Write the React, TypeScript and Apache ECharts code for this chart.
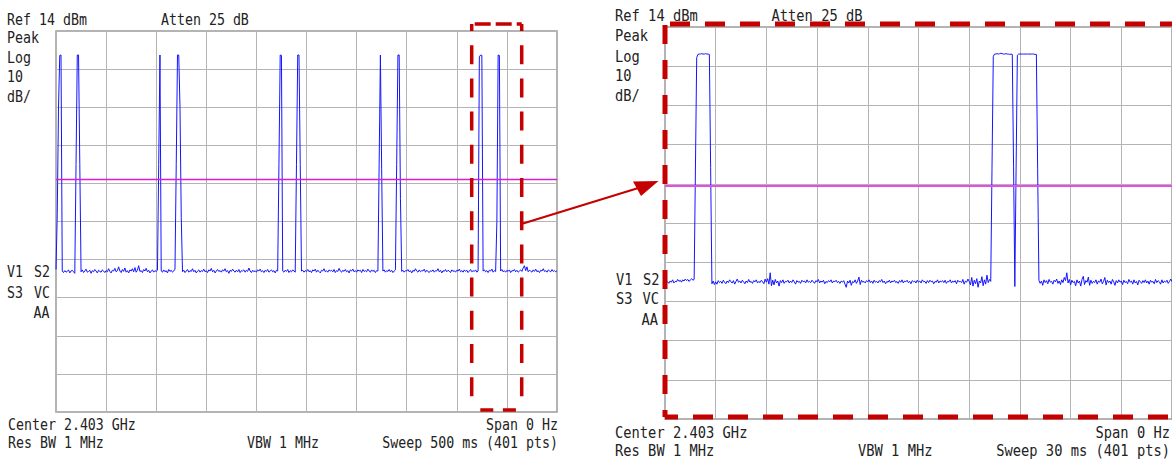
import React, { useEffect, useRef } from "react";
import * as echarts from "echarts";

// ---------------- data ----------------
const REF_LEVEL_DBM = 14;
const DB_PER_DIV = 10;
const POINTS = 401;
const leftSweepMs = 500;
const rightSweepMs = 30;
const leftDisplayLineDbm = -25;
const rightDisplayLineDbm = -26.4;

// left screen: Sweep 500 ms, 401 pts (dBm)
const leftTraceDbm: number[] = [
  -48.6, -34, -6, 7.6, 7.7, -49.0, -49.4, -48.9, -49.3, -49.1, -48.7, -49.5, -49.0, -48.8, -49.2, -49.6, -21, 7.7, 7.7, -21,
  -49.2, -48.7, -49.4, -49.0, -48.5, -49.3, -49.1, -48.8, -49.6, -48.9, -49.2, -48.6, -49.0, -49.5, -48.8, -49.1, -49.3, -48.7, -49.0, -49.4,
  -48.9, -49.2, -48.4, -49.1, -49.5, -48.8, -49.0, -48.3, -49.2, -48.9, -47.9, -49.0, -49.4, -48.6, -49.1, -48.2, -49.3, -48.9, -49.5, -48.7,
  -49.0, -48.4, -49.2, -48.1, -49.3, -48.8, -47.6, -49.1, -48.9, -49.4, -48.6, -49.0, -48.3, -49.2, -48.8, -49.5, -49.0, -48.7, -49.3, -48.9,
  -49.1, -48.8, -21, 7.7, -49.0, -49.3, -48.7, -49.2, -48.9, -49.5, -48.6, -49.1, -48.8, -49.3, -49.0, -48.5, -21, 7.7, 7.7, -6,
  -35, -49.2, -48.8, -49.4, -49.0, -48.6, -49.3, -48.9, -49.1, -48.4, -49.2, -48.8, -49.5, -49.0, -48.7, -49.3, -48.9, -49.1, -48.5, -49.2,
  -48.9, -49.4, -48.7, -49.0, -48.3, -49.2, -48.8, -49.5, -49.0, -48.6, -49.1, -48.9, -49.3, -48.7, -49.0, -48.4, -49.2, -48.9, -49.6, -48.8,
  -49.1, -48.5, -49.0, -49.3, -48.8, -49.2, -48.6, -49.4, -48.9, -49.0, -48.7, -49.3, -48.8, -49.1, -48.2, -49.0, -49.4, -48.8, -49.2, -48.9,
  -49.3, -48.7, -49.0, -48.5, -49.2, -48.9, -49.4, -48.8, -49.1, -48.6, -49.3, -49.0, -48.7, -49.2, -48.9, -49.5, -48.8, -49.0, -21, 7.7,
  7.6, -49.0, -49.3, -48.8, -49.1, -48.6, -49.4, -48.9, -49.2, -48.7, -49.0, -49.3, -21, 7.7, 7.7, -21, -49.0, -48.8, -49.3, -48.9,
  -49.1, -48.6, -49.2, -48.9, -49.4, -48.7, -49.0, -48.5, -49.3, -48.8, -49.1, -49.5, -48.8, -49.0, -48.4, -49.2, -48.9, -49.3, -48.7, -49.0,
  -48.8, -49.2, -48.6, -49.4, -48.9, -49.1, -48.3, -49.0, -49.3, -48.8, -49.1, -48.6, -49.2, -48.9, -49.5, -48.7, -49.0, -48.5, -49.2, -48.9,
  -49.3, -48.7, -49.0, -48.8, -49.4, -48.6, -49.1, -48.9, -49.2, -48.5, -49.0, -49.3, -48.7, -49.1, -48.8, -49.4, -48.9, -49.0, -21, 7.7,
  -22, -49.0, -48.7, -49.3, -48.9, -49.1, -48.6, -49.2, -48.8, -49.4, -49.0, -48.7, -21, 7.7, 7.7, -30, -49.1, -48.8, -49.3, -48.9,
  -49.0, -48.6, -49.2, -48.9, -49.5, -48.8, -49.1, -48.4, -49.0, -49.3, -48.7, -49.2, -48.9, -49.0, -48.5, -49.3, -48.8, -49.1, -49.4, -48.9,
  -49.1, -48.7, -49.3, -48.9, -49.0, -48.4, -49.2, -48.8, -49.5, -48.9, -49.1, -48.6, -49.2, -48.8, -49.0, -49.4, -48.7, -49.1, -48.9, -49.3,
  -48.8, -49.0, -48.5, -49.2, -48.9, -49.3, -48.7, -49.1, -48.8, -49.4, -49.0, -48.6, -49.2, -48.9, -49.1, -48.7, -49.3, -49.0, 7.2, 7.7,
  7.6, -49.0, -48.7, -49.2, -48.9, -49.4, -48.8, -49.0, -48.5, -49.3, -48.9, -49.1, -36, 7.7, 7.6, -49.0, -48.6, -49.2, -48.9, -49.3,
  -48.8, -49.1, -48.7, -49.4, -48.9, -49.0, -48.6, -49.2, -48.8, -49.3, -49.0, -48.7, -49.1, -48.2, -47.6, -48.9, -47.9, -49.2, -48.8, -49.0,
  -49.3, -48.7, -49.1, -48.5, -49.2, -48.9, -49.4, -48.8, -49.0, -48.4, -49.1, -48.9, -49.3, -48.7, -49.0, -49.2, -48.6, -49.1, -48.9, -49.2,
  -48.9,
];

// right screen: Sweep 30 ms, 401 pts (dBm)
const rightTraceDbm: number[] = [
  -51.2, -50.6, -51.0, -51.4, -50.8, -51.1, -50.5, -51.3, -50.9, -51.0, -50.4, -50.9, -50.6, -51.1, -50.5, -50.8, -50.3, -50.7, -50.4, -50.9,
  -50.5, -50.2, -50.6, -50.4, -22.5, 6.2, 7.0, 7.1, 7.1, 7.2, 7.1, 7.1, 7.2, 7.1, 7.1, 7.0, -21.8, -51.5, -50.8, -51.7,
  -51.0, -51.6, -50.7, -51.2, -50.9, -51.4, -50.6, -51.1, -51.5, -50.8, -51.2, -50.5, -51.0, -51.3, -50.7, -51.6, -50.9, -50.3, -51.1, -50.8,
  -51.3, -50.6, -51.0, -51.5, -50.8, -51.2, -50.4, -51.1, -50.9, -51.4, -50.7, -51.0, -50.5, -51.3, -50.9, -51.2, -50.6, -51.0, -51.5, -50.3,
  -51.1, -50.2, -51.6, -48.7, -52.0, -50.6, -51.8, -50.4, -51.3, -50.8, -52.1, -50.7, -51.2, -50.5, -51.4, -50.9, -51.0, -50.6, -51.3, -50.8,
  -51.2, -50.5, -51.0, -51.6, -50.7, -51.1, -50.9, -51.4, -50.6, -51.0, -50.8, -51.3, -50.5, -51.1, -50.9, -51.2, -50.6, -51.0, -51.4, -50.7,
  -51.0, -50.4, -51.3, -50.8, -51.1, -50.6, -51.5, -50.9, -51.2, -50.7, -51.0, -50.5, -51.3, -50.8, -51.0, -50.6, -51.2, -50.9, -51.4, -50.8,
  -51.1, -50.7, -51.6, -52.4, -50.8, -51.3, -50.6, -51.9, -50.9, -51.2, -50.5, -51.4, -50.8, -49.8, -51.7, -50.6, -51.1, -50.9, -51.3, -50.7,
  -51.0, -50.5, -51.2, -50.8, -51.4, -50.6, -51.1, -50.9, -51.3, -50.7, -51.0, -50.4, -51.2, -50.8, -51.5, -50.9, -51.1, -50.6, -51.3, -50.8,
  -51.0, -50.6, -51.2, -50.9, -51.4, -50.7, -51.1, -50.5, -51.3, -50.8, -51.0, -50.6, -51.2, -50.9, -51.5, -50.7, -51.0, -50.8, -51.3, -50.6,
  -51.1, -50.8, -51.3, -50.5, -51.0, -50.9, -51.4, -50.7, -51.2, -50.6, -51.0, -50.8, -51.5, -50.9, -51.1, -50.5, -51.3, -50.8, -51.0, -50.7,
  -51.2, -50.6, -51.4, -50.9, -51.0, -50.5, -51.3, -50.8, -51.1, -50.7, -51.5, -50.6, -51.0, -50.9, -51.2, -50.4, -51.6, -50.8, -51.1, -50.3,
  -50.9, -51.8, -49.9, -52.1, -50.6, -51.5, -50.2, -52.4, -50.8, -51.3, -49.7, -52.0, -50.5, -51.6, -49.3, -51.2, -50.4, -50.9, -22, 6.5,
  7.1, 7.1, 7.2, 7.1, 7.2, 7.3, 7.2, 7.1, 7.1, 7.2, 7.1, 7.1, 7.0, 7.1, 7.0, -21.5, -52.2, -22, 6.8, 7.1,
  7.1, 7.1, 7.1, 7.1, 7.1, 7.1, 7.1, 7.1, 7.1, 7.1, 7.1, 7.1, 7.0, 7.0, -22, -50.6, -51.4, -50.8, -51.9, -50.5,
  -51.2, -50.7, -51.5, -50.4, -51.1, -50.9, -51.6, -50.6, -51.0, -50.3, -51.4, -50.8, -51.7, -50.5, -51.2, -49.9, -50.7, -48.7, -51.3, -50.4,
  -51.8, -50.6, -51.2, -50.9, -52.0, -50.5, -51.3, -50.8, -52.1, -50.4, -49.6, -51.7, -50.7, -51.1, -49.8, -51.9, -50.6, -51.4, -50.9, -51.2,
  -50.5, -51.6, -50.8, -51.1, -50.3, -51.5, -50.9, -49.9, -51.8, -50.6, -51.2, -50.8, -51.6, -50.4, -51.0, -51.9, -50.7, -51.3, -50.5, -51.1,
  -50.8, -51.7, -50.6, -51.2, -50.9, -51.5, -50.4, -51.1, -50.8, -51.6, -50.5, -51.3, -50.9, -51.8, -50.6, -51.0, -51.4, -50.7, -51.2, -50.5,
  -51.3, -50.8, -51.6, -50.6, -51.1, -50.9, -51.5, -50.4, -51.2, -50.7, -51.0, -51.6, -50.5, -51.3, -50.8, -51.1, -50.6, -51.4, -50.9, -50.3,
  -51.0,
];

// ---------------- layout / style ----------------
const FONT = '16px "DejaVu Sans Mono", "Liberation Mono", monospace';
const TEXT_COLOR = "#222";
const RED = "#c40000";

function txt(x: number, base: number, text: string, sx: number, align: "left" | "right" = "left") {
  return {
    type: "text",
    x,
    y: base - 5.5,
    scaleX: sx,
    silent: true,
    z: 10,
    style: {
      text,
      font: FONT,
      fill: TEXT_COLOR,
      textAlign: align,
      textVerticalAlign: "middle",
      align,
      verticalAlign: "middle",
    },
  };
}

function dashLine(x1: number, y1: number, x2: number, y2: number, width: number, dash: number[], offset: number) {
  return {
    type: "line",
    silent: true,
    z: 20,
    shape: { x1, y1, x2, y2 },
    style: { stroke: RED, lineWidth: width, lineDash: dash, lineDashOffset: offset, lineCap: "butt" },
  };
}

function buildOption() {
  const leftData = leftTraceDbm.map((v, i) => [(i * leftSweepMs) / (POINTS - 1), v]);
  const rightData = rightTraceDbm.map((v, i) => [(i * rightSweepMs) / (POINTS - 1), v]);
  const refBottom = REF_LEVEL_DBM - 10 * DB_PER_DIV;

  const divAxis = (gridIndex: number) => ({
    gridIndex,
    type: "value",
    min: 0,
    max: 10,
    interval: 1,
    axisLine: { show: false },
    axisTick: { show: false },
    axisLabel: { show: false },
    splitLine: { show: true, lineStyle: { color: "#b4b4b4", width: 1 } },
  });
  const dataAxis = (gridIndex: number) => ({
    gridIndex,
    type: "value",
    min: refBottom,
    max: REF_LEVEL_DBM,
    show: false,
    splitLine: { show: false },
  });
  const timeAxis = (gridIndex: number, max: number, interval: number) => ({
    gridIndex,
    type: "value",
    min: 0,
    max,
    interval,
    axisLine: { show: false },
    axisTick: { show: false },
    axisLabel: { show: false },
    splitLine: { show: true, lineStyle: { color: "#b4b4b4", width: 1 } },
  });

  const graphics: any[] = [
    // left screen annotations
    txt(7, 25, "Ref 14 dBm", 0.83),
    txt(161, 25, "Atten 25 dB", 0.83),
    txt(7, 43, "Peak", 0.83),
    txt(7, 62.5, "Log", 0.83),
    txt(7, 82, "10", 0.83),
    txt(7, 101.5, "dB/", 0.83),
    txt(7, 277, "V1", 0.83),
    txt(34, 277, "S2", 0.83),
    txt(7, 298, "S3", 0.83),
    txt(34, 298, "VC", 0.83),
    txt(33.5, 318, "AA", 0.83),
    txt(8, 430, "Center 2.403 GHz", 0.83),
    txt(558, 430, "Span 0 Hz", 0.83, "right"),
    txt(8, 448, "Res BW 1 MHz", 0.83),
    txt(247, 448, "VBW 1 MHz", 0.83),
    txt(558, 448, "Sweep 500 ms (401 pts)", 0.83, "right"),
    // right screen annotations
    txt(615, 21.5, "Ref 14 dBm", 0.86),
    txt(771.5, 21.5, "Atten 25 dB", 0.86),
    txt(615, 41.5, "Peak", 0.86),
    txt(615, 62, "Log", 0.86),
    txt(615, 81.5, "10", 0.86),
    txt(615, 101.5, "dB/", 0.86),
    txt(616, 285, "V1", 0.86),
    txt(643, 285, "S2", 0.86),
    txt(616, 304.5, "S3", 0.86),
    txt(642.5, 304.5, "VC", 0.86),
    txt(641.5, 325, "AA", 0.86),
    txt(615, 438, "Center 2.403 GHz", 0.86),
    txt(1170, 438, "Span 0 Hz", 0.86, "right"),
    txt(615, 456, "Res BW 1 MHz", 0.86),
    txt(858, 456, "VBW 1 MHz", 0.86),
    txt(1170, 456, "Sweep 30 ms (401 pts)", 0.86, "right"),
    // left dashed zoom box
    dashLine(471.7, 24, 521.7, 24, 3.5, [16, 5], 17.7),
    dashLine(471.7, 410, 521.7, 410, 3.5, [13, 9.6], 13.6),
    dashLine(471.7, 24, 471.7, 410, 3.5, [19, 14.2], 12.2),
    dashLine(521.7, 24, 521.7, 410, 3.5, [19, 14.2], 12.2),
    // right dashed box
    dashLine(665, 24, 1180, 24, 5, [20, 15], 30),
    dashLine(665, 24, 665, 417, 5, [19, 16], 34),
    dashLine(665, 417, 1180, 417, 5, [20, 15], 7),
    // arrow
    {
      type: "line",
      silent: true,
      z: 20,
      shape: { x1: 523, y1: 223.5, x2: 640, y2: 187.5 },
      style: { stroke: RED, lineWidth: 2 },
    },
    {
      type: "polygon",
      silent: true,
      z: 20,
      shape: { points: [[658.5, 181], [633, 181.5], [641, 196]] },
      style: { fill: RED },
    },
  ];

  return {
    animation: false,
    backgroundColor: "#ffffff",
    grid: [
      { left: 56, top: 31, width: 501, height: 381, show: true, borderColor: "#9a9a9a", borderWidth: 1.5, backgroundColor: "transparent" },
      { left: 665, top: 27, width: 515, height: 392, show: true, borderColor: "#9a9a9a", borderWidth: 1.5, backgroundColor: "transparent" },
    ],
    xAxis: [timeAxis(0, leftSweepMs, leftSweepMs / 10), timeAxis(1, rightSweepMs, rightSweepMs / 10)],
    yAxis: [dataAxis(0), divAxis(0), dataAxis(1), divAxis(1)],
    series: [
      {
        type: "line",
        xAxisIndex: 0,
        yAxisIndex: 0,
        data: leftData,
        symbol: "none",
        showSymbol: false,
        silent: true,
        lineStyle: { color: "#1414ff", width: 1 },
        markLine: {
          silent: true,
          symbol: ["none", "none"],
          label: { show: false },
          lineStyle: { color: "#d81cd8", width: 1.3, type: "solid" },
          data: [{ yAxis: leftDisplayLineDbm }],
        },
      },
      {
        type: "line",
        xAxisIndex: 1,
        yAxisIndex: 2,
        data: rightData,
        symbol: "none",
        showSymbol: false,
        silent: true,
        lineStyle: { color: "#1414ff", width: 1 },
        markLine: {
          silent: true,
          symbol: ["none", "none"],
          label: { show: false },
          lineStyle: { color: "#e84ce8", width: 2, type: "solid" },
          data: [{ yAxis: rightDisplayLineDbm }],
        },
      },
    ],
    graphic: graphics,
  };
}

export default function App() {
  const ref = useRef<HTMLDivElement>(null);
  useEffect(() => {
    if (!ref.current) return;
    const chart = echarts.init(ref.current, null, { renderer: "svg" });
    chart.setOption(buildOption() as any);
    return () => chart.dispose();
  }, []);
  return (
    <div
      ref={ref}
      style={{ position: "fixed", left: 0, top: 0, width: 1172, height: 462, background: "#fff" }}
    />
  );
}
